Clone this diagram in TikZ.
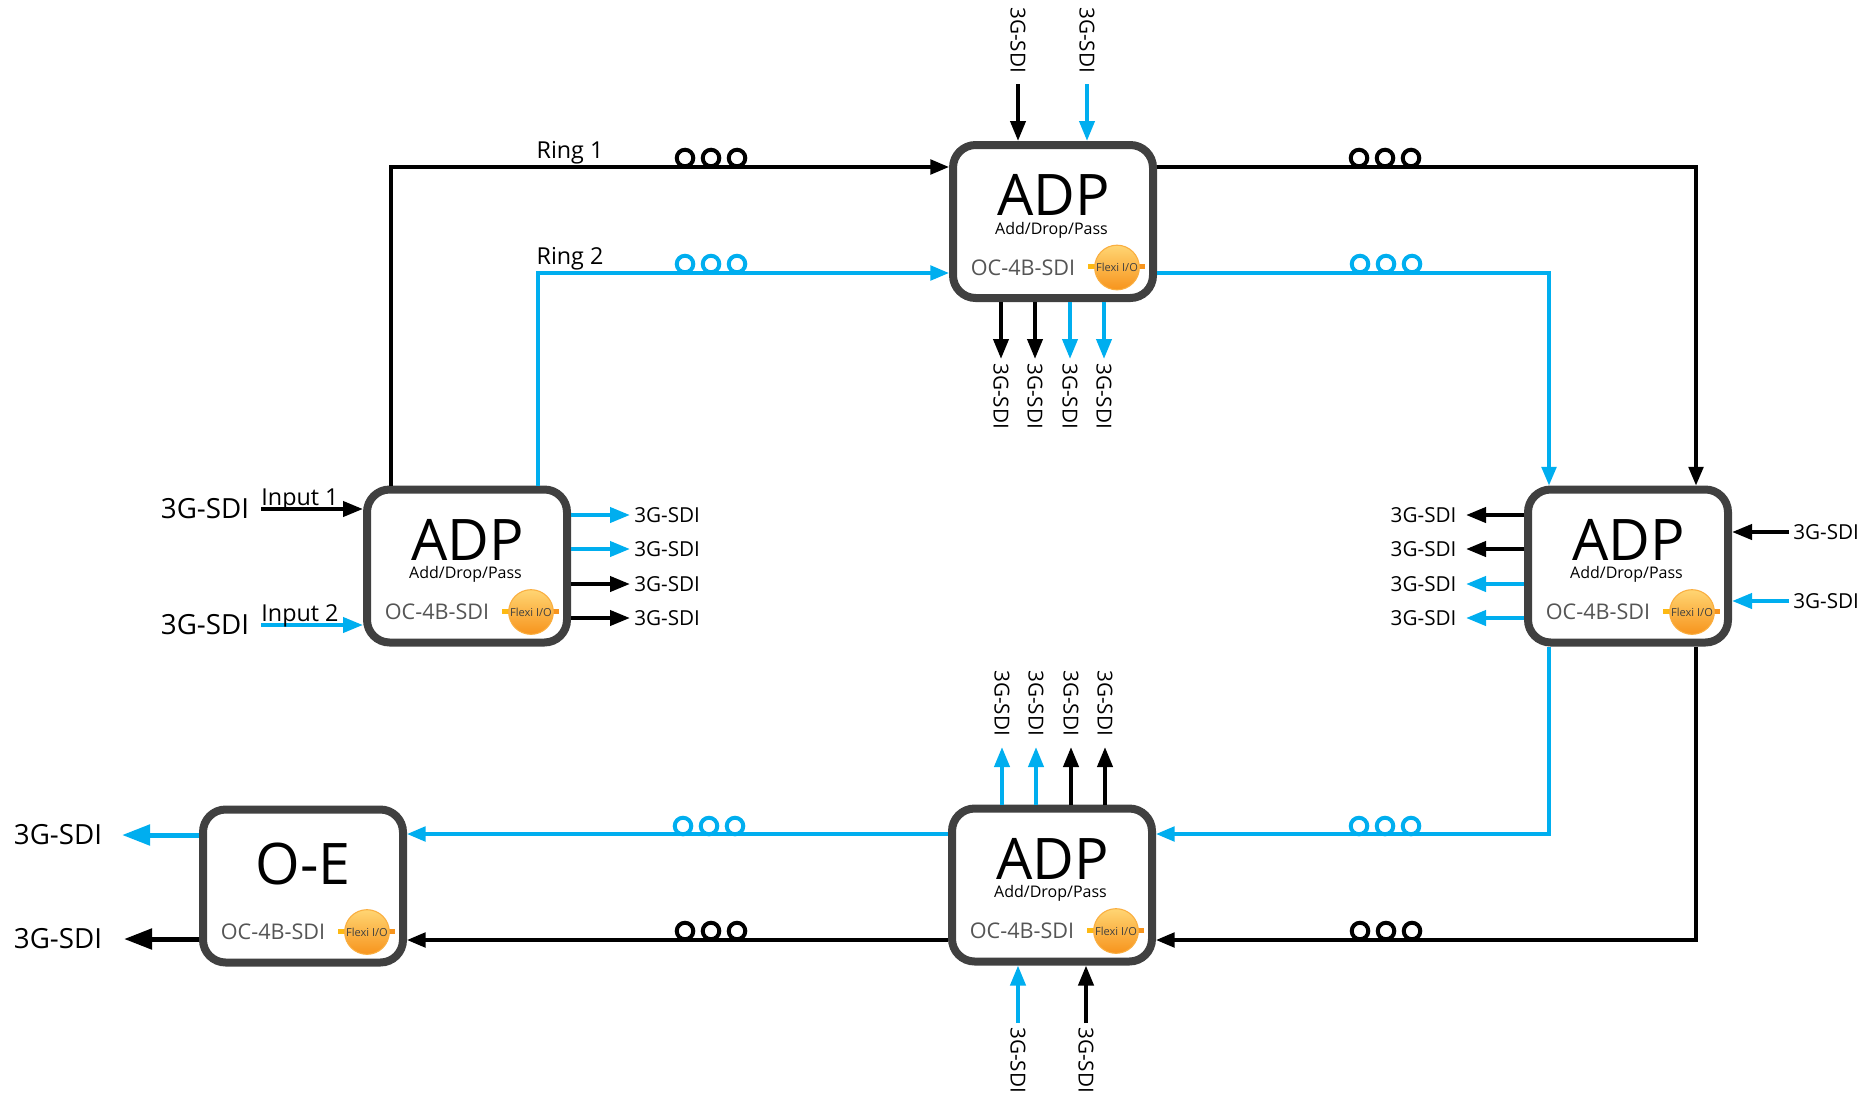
\documentclass[tikz,border=0pt]{standalone}
\usepackage{fontspec}
\setmainfont{Open Sans}
\usetikzlibrary{arrows.meta}
\definecolor{sdiblue}{HTML}{00AEEF}
\definecolor{boxgray}{HTML}{404040}
\definecolor{labgray}{HTML}{555555}
\definecolor{balltop}{HTML}{FFD573}
\definecolor{ballmid}{HTML}{FDB913}
\definecolor{ballbot}{HTML}{F7941D}
\tikzset{
    adpbox/.style={draw=boxgray, line width=6pt, rounded corners=17pt, fill=white, minimum width=150pt, minimum height=114.75pt, inner sep=0pt},
    sdilink/.style={line width=2.5pt, -{Triangle[length=14pt,width=11pt]}},
    sdistub/.style={line width=3pt, -{Triangle[length=15pt,width=11.25pt]}},
    oestub/.style={line width=3.75pt, -{Triangle[length=21pt,width=15pt]}},
    coil/.style={draw, line width=3pt, circle, minimum size=12.4pt, inner sep=0pt},
    biglab/.style={font=\fontsize{20.8}{20.8}\selectfont, inner sep=2pt},
    sdilab/.style={font=\fontsize{15.5}{15.5}\selectfont, inner sep=3pt},
    ringlab/.style={font=\fontsize{17.5}{17.5}\selectfont, inner sep=0pt},
    flexi/.style={circle, minimum size=33.5pt, inner sep=0pt, draw=ballbot!60!balltop, line width=0.8pt, top color=balltop, middle color=ballmid, bottom color=ballbot, font=\fontsize{8.3}{8.3}\selectfont, text=boxgray},
}
\begin{document}
\begin{tikzpicture}[x=0.75pt, y=-0.75pt]
    \useasboundingbox (0,0) rectangle (1874,1097);
    % boxes
    \foreach \nm/\x/\y in {adptop/1053/221.5, adpleft/467/566, adpright/1628/566, adpbottom/1052/885, oebox/303/886} {
        \node[adpbox] (\nm) at (\x,\y) {};
        \node[font=\fontsize{16.2}{16.2}\selectfont, text=labgray, inner sep=0pt] (\nm oc) at ([shift={(-30,46)}]\nm.center) {OC-4B-SDI};
        \fill[ballmid] ([shift={(35,42.5)}]\nm.center) rectangle ([shift={(45,47.5)}]\nm.center);
        \fill[ballbot] ([shift={(83,42.5)}]\nm.center) rectangle ([shift={(92,47.5)}]\nm.center);
        \node[flexi] (\nm io) at ([shift={(64,46)}]\nm.center) {Flexi I/O};
    }
    \foreach \nm in {adptop, adpleft, adpright, adpbottom} {
        \node[font=\fontsize{43}{43}\selectfont, inner sep=0pt] (\nm name) at ([shift={(0.5,-26.5)}]\nm.center) {ADP};
        \node[font=\fontsize{12}{12}\selectfont, inner sep=0pt] (\nm sub) at ([shift={(-1.5,8.5)}]\nm.center) {Add/Drop/Pass};
    }
    \node[font=\fontsize{43}{43}\selectfont, inner sep=0pt] (oename) at (303,864) {O-E};

    % rings
    \coordinate (ringa) at (391,167);
    \coordinate (ringb) at (538,273);
    \coordinate (ringc) at (1696,167);
    \coordinate (ringd) at (1549,273);
    \coordinate (ringe) at (1549,834);
    \coordinate (ringf) at (1696,940);
    \draw[sdilink] (adpleft.north -| ringa) |- (adptop.west |- ringa);
    \draw[sdilink, sdiblue] (adpleft.north -| ringb) |- (adptop.west |- ringb);
    \draw[sdilink] (adptop.east |- ringc) -| (adpright.north -| ringc);
    \draw[sdilink, sdiblue] (adptop.east |- ringd) -| (adpright.north -| ringd);
    \draw[sdilink, sdiblue] (adpright.south -| ringe) |- (adpbottom.east |- ringe);
    \draw[sdilink] (adpright.south -| ringf) |- (adpbottom.east |- ringf);
    \draw[sdilink, sdiblue] (adpbottom.west |- ringe) -- (oebox.east |- ringe);
    \draw[sdilink] (adpbottom.west |- ringf) -- (oebox.east |- ringf);

    % coils
    \foreach \nm/\x/\y/\c in {ca/685/158/black, cb/1359/158/black, cc/685/264/sdiblue, cd/1360/264/sdiblue, ce/1359/826/sdiblue, cf/1360/931/black, cg/683/826/sdiblue, ch/685/931/black} {
        \node[coil, draw=\c] (\nm1) at (\x,\y) {};
        \node[coil, draw=\c] (\nm2) at (\x+26,\y) {};
        \node[coil, draw=\c] (\nm3) at (\x+52,\y) {};
    }
    \node[ringlab] (ringone) at (570,153) {Ring 1};
    \node[ringlab] (ringtwo) at (570,259) {Ring 2};

    % left adp
    \node[biglab] (ina) at (205,509) {3G-SDI};
    \node[biglab] (inb) at (205,625) {3G-SDI};
    \coordinate (inastart) at (261,509);
    \coordinate (inbstart) at (261,625);
    \draw[sdistub] (inastart) -- (adpleft.west |- inastart);
    \draw[sdistub, sdiblue] (inbstart) -- (adpleft.west |- inbstart);
    \node[ringlab] (inputone) at (300,500) {Input 1};
    \node[ringlab] (inputtwo) at (300,616) {Input 2};
    \foreach \nm/\y/\c in {outa/515/sdiblue, outb/549/sdiblue, outc/584/black, outd/618/black} {
        \node[sdilab, anchor=west] (\nm) at (630,\y) {3G-SDI};
        \draw[sdistub, \c] (adpleft.east |- \nm.west) -- (\nm.west);
    }

    % right adp
    \foreach \nm/\y/\c in {oute/515/black, outf/549/black, outg/584/sdiblue, outh/618/sdiblue} {
        \node[sdilab, anchor=east, inner sep=7pt] (\nm) at (1466,\y) {3G-SDI};
        \draw[sdistub, \c] (adpright.west |- \nm.east) -- (\nm.east);
    }
    \foreach \nm/\y/\c in {ine/532/black, inf/601/sdiblue} {
        \node[sdilab, anchor=west] (\nm) at (1789,\y) {3G-SDI};
        \draw[sdistub, \c] (\nm.west) -- (adpright.east |- \nm.west);
    }

    % top adp
    \foreach \nm/\x/\c in {ing/1018/black, inh/1087/sdiblue} {
        \node[sdilab, rotate=-90, anchor=east, inner sep=8pt] (\nm) at (\x,84) {3G-SDI};
        \draw[sdistub, \c] (\nm.east) -- (adptop.north -| \nm.east);
    }
    \foreach \nm/\x/\c in {outi/1001/black, outj/1035/black, outk/1070/sdiblue, outl/1104/sdiblue} {
        \node[sdilab, rotate=-90, anchor=west] (\nm) at (\x,359) {3G-SDI};
        \draw[sdistub, \c] (adptop.south -| \nm.west) -- (\nm.west);
    }

    % bottom adp
    \foreach \nm/\x/\c in {outm/1002/sdiblue, outn/1036/sdiblue, outo/1071/black, outp/1105/black} {
        \node[sdilab, rotate=-90, anchor=east, inner sep=8pt] (\nm) at (\x,747) {3G-SDI};
        \draw[sdistub, \c] (adpbottom.north -| \nm.east) -- (\nm.east);
    }
    \foreach \nm/\x/\c in {ini/1018/sdiblue, inj/1086/black} {
        \node[sdilab, rotate=-90, anchor=west] (\nm) at (\x,1023) {3G-SDI};
        \draw[sdistub, \c] (\nm.west) -- (adpbottom.south -| \nm.west);
    }

    % oe outputs
    \node[biglab] (outq) at (58,835) {3G-SDI};
    \node[biglab] (outr) at (58,939) {3G-SDI};
    \coordinate (outqend) at (122,835);
    \coordinate (outrend) at (124,939);
    \draw[oestub, sdiblue] (oebox.west |- outqend) -- (outqend);
    \draw[oestub] (oebox.west |- outrend) -- (outrend);
\end{tikzpicture}
\end{document}
